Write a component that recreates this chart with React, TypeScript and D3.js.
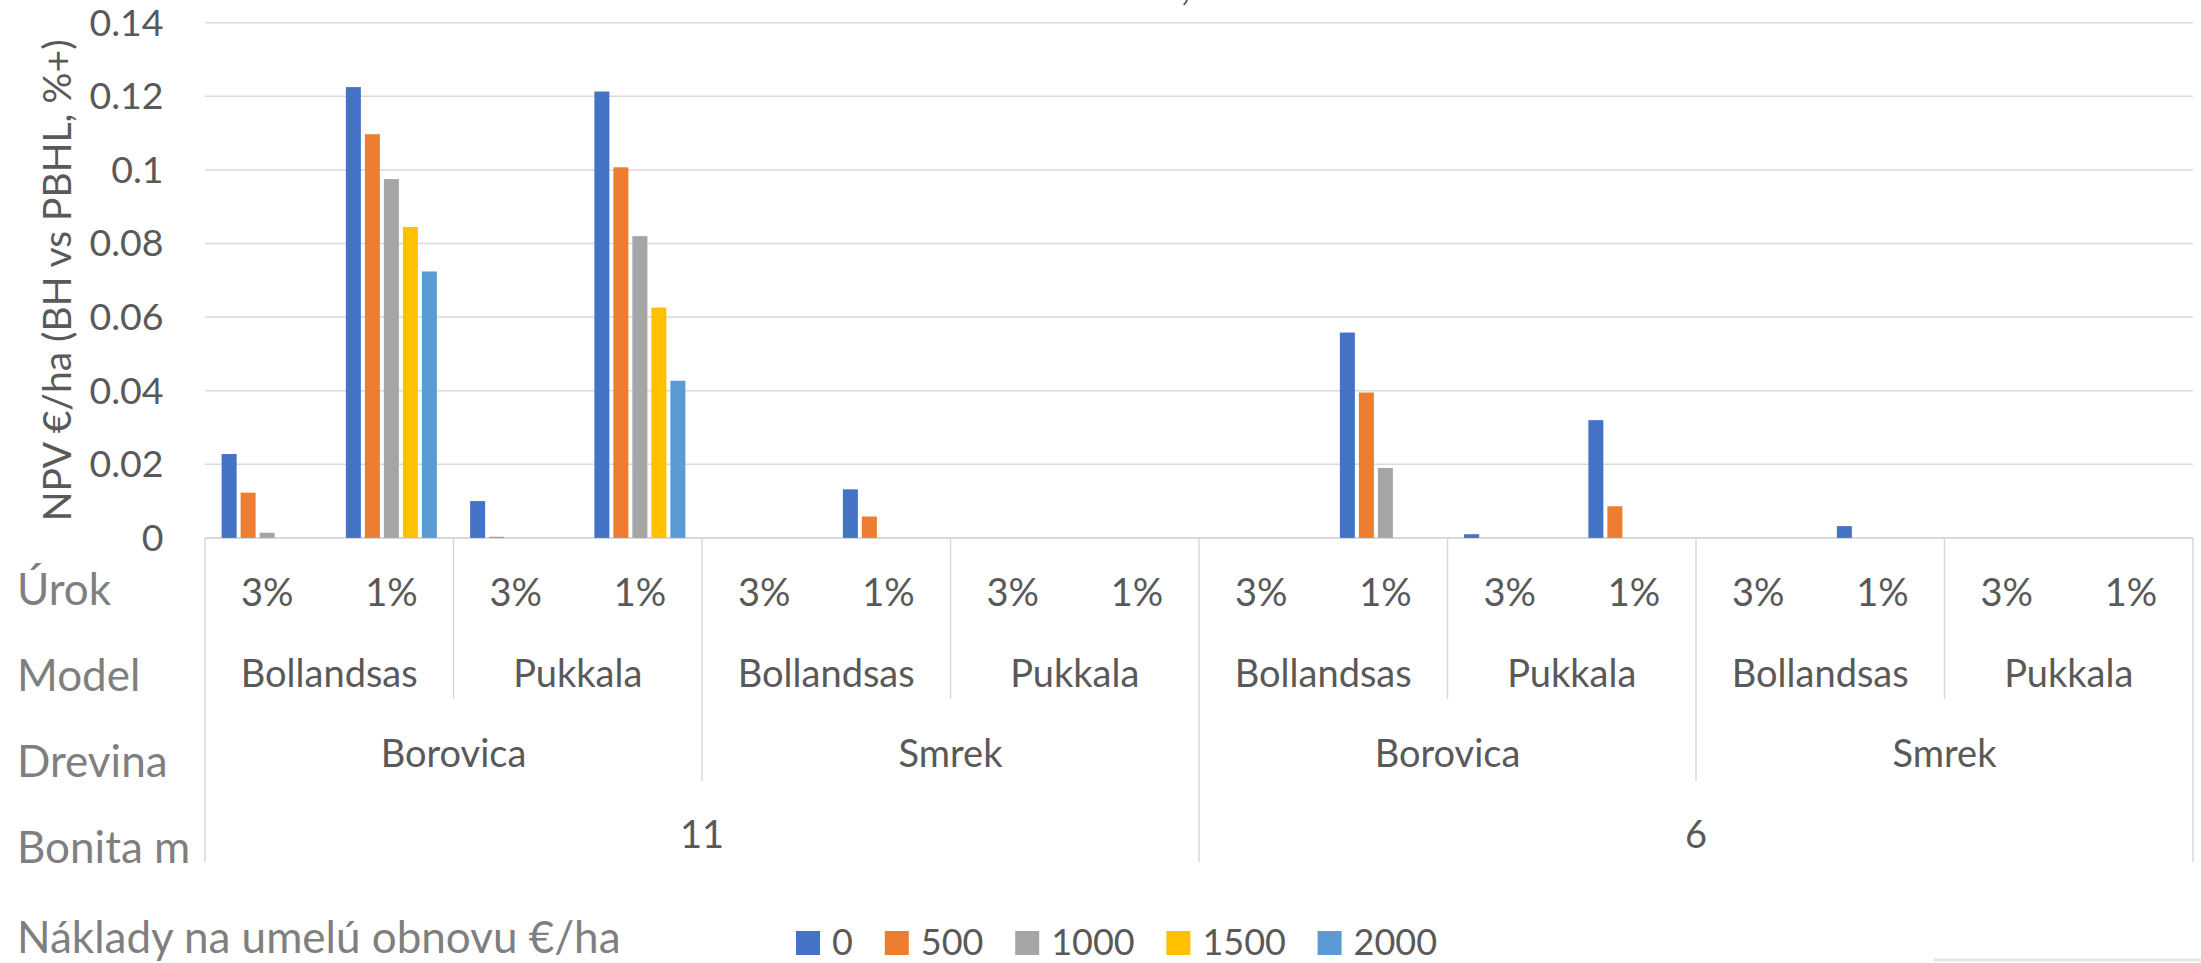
import React from "react";
import * as d3 from "d3";

const bonitaLevels = ["11", "6"];
const drevinaLevels = ["Borovica", "Smrek"];
const modelLevels = ["Bollandsas", "Pukkala"];
const urokLevels = ["3%", "1%"];
const seriesNames = ["0", "500", "1000", "1500", "2000"];
const seriesColors = ["#4472C4", "#ED7D31", "#A5A5A5", "#FFC000", "#5B9BD5"];

// 16 categories in order: bonita > drevina > model > urok
const values0 = [0.0228, 0.1225, 0.01, 0.1213, null, 0.0132, null, null, null, 0.0558, 0.001, 0.032, null, 0.0032, null, null];
const values500 = [0.0123, 0.1097, 0.0003, 0.1007, null, 0.0058, null, null, null, 0.0395, null, 0.0086, null, null, null, null];
const values1000 = [0.0014, 0.0975, null, 0.082, null, null, null, null, null, 0.019, null, null, null, null, null, null];
const values1500 = [null, 0.0845, null, 0.0626, null, null, null, null, null, null, null, null, null, null, null, null];
const values2000 = [null, 0.0724, null, 0.0427, null, null, null, null, null, null, null, null, null, null, null, null];
const seriesValues = [values0, values500, values1000, values1500, values2000];

const yTicks = [0, 0.02, 0.04, 0.06, 0.08, 0.1, 0.12, 0.14];
const rowLabels = ["Úrok", "Model", "Drevina", "Bonita m"];
const yTitle = "NPV €/ha (BH vs PBHL, %+)";
const legendTitle = "Náklady na umelú obnovu €/ha";

const W = 2201;
const H = 963;
const FONT = "Lato, 'Open Sans', sans-serif";
const TXT = "#595959";
const ROWTXT = "#7F7F7F";
const GRID = "#D9D9D9";

type Cat = { id: string; bonita: string; drevina: string; model: string; urok: string };
const cats: Cat[] = [];
bonitaLevels.forEach((b) =>
  drevinaLevels.forEach((d) =>
    modelLevels.forEach((m) =>
      urokLevels.forEach((u) => cats.push({ id: `${b}|${d}|${m}|${u}`, bonita: b, drevina: d, model: m, urok: u }))
    )
  )
);

export default function App() {
  const left = 205;
  const right = 2193;
  const top = 22.7;
  const bottom = 537.9;

  const x = d3.scaleBand<string>().domain(cats.map((c) => c.id)).range([left, right]).padding(0);
  const y = d3.scaleLinear().domain([0, 0.14]).range([bottom, top]);
  const groupW = 95;
  const inner = d3
    .scaleBand<string>()
    .domain(seriesNames)
    .range([0, groupW])
    .paddingInner(4 / 19)
    .paddingOuter(2 / 19);
  const bw = x.bandwidth();
  const catX = (i: number) => left + i * bw;

  const seps: { i: number; y2: number }[] = [];
  for (let i = 0; i <= 16; i++) {
    let y2 = 0;
    if (i % 8 === 0) y2 = 862;
    else if (i % 4 === 0) y2 = 781;
    else if (i % 2 === 0) y2 = 699;
    if (y2) seps.push({ i, y2 });
  }

  const fmt = (v: number) => String(+v.toFixed(2));

  const urokRow = cats.map((c, i) => ({ label: c.urok, cx: catX(i) + bw / 2 }));
  const modelRow: { label: string; cx: number }[] = [];
  for (let i = 0; i < 16; i += 2) modelRow.push({ label: cats[i].model, cx: catX(i) + bw });
  const drevRow: { label: string; cx: number }[] = [];
  for (let i = 0; i < 16; i += 4) drevRow.push({ label: cats[i].drevina, cx: catX(i) + 2 * bw });
  const bonRow: { label: string; cx: number }[] = [];
  for (let i = 0; i < 16; i += 8) bonRow.push({ label: cats[i].bonita, cx: catX(i) + 4 * bw });

  const legendX0 = 796;
  const digitW = 20.8;
  let lx = legendX0;
  const legendItems = seriesNames.map((s, k) => {
    const item = { name: s, color: seriesColors[k], x: lx };
    lx += 36 + s.length * digitW + 32;
    return item;
  });

  return (
    <svg
      width={W}
      height={H}
      viewBox={`0 0 ${W} ${H}`}
      style={{ position: "absolute", left: 0, top: 0, background: "#fff" }}
      fontFamily={FONT}
    >
      <rect x={0} y={0} width={W} height={H} fill="#fff" />
      {/* cut-off title remnant (as in the reference) */}
      <text x={1181} y={0} fontSize={40} fill={TXT}>,</text>

      {yTicks.map((t) => (
        <line key={t} x1={left} x2={right} y1={y(t)} y2={y(t)} stroke={GRID} strokeWidth={t === 0 ? 2 : 1.5} />
      ))}
      {yTicks.map((t) => (
        <text key={"l" + t} x={163.5} y={y(t) + 12.8} textAnchor="end" fontSize={37.5} fill={TXT}>
          {fmt(t)}
        </text>
      ))}
      <text transform={`translate(71, ${(top + bottom) / 2}) rotate(-90)`} textAnchor="middle" fontSize={39} fill={TXT}>
        {yTitle}
      </text>

      {seriesValues.map((vals, k) =>
        vals.map((v, i) =>
          v == null ? null : (
            <rect
              key={`b${k}-${i}`}
              x={(x(cats[i].id) as number) + (bw - groupW) / 2 + (inner(seriesNames[k]) as number)}
              y={y(v)}
              width={inner.bandwidth()}
              height={bottom - y(v)}
              fill={seriesColors[k]}
            />
          )
        )
      )}

      {seps.map((s) => (
        <line key={"s" + s.i} x1={catX(s.i)} x2={catX(s.i)} y1={bottom} y2={s.y2} stroke={GRID} strokeWidth={1.5} />
      ))}

      {urokRow.map((d, i) => (
        <text key={"u" + i} x={d.cx} y={606} textAnchor="middle" fontSize={38} fill={TXT}>{d.label}</text>
      ))}
      {modelRow.map((d, i) => (
        <text key={"m" + i} x={d.cx} y={686.7} textAnchor="middle" fontSize={38} fill={TXT}>{d.label}</text>
      ))}
      {drevRow.map((d, i) => (
        <text key={"d" + i} x={d.cx} y={766.7} textAnchor="middle" fontSize={38} fill={TXT}>{d.label}</text>
      ))}
      {bonRow.map((d, i) => (
        <text key={"bo" + i} x={d.cx} y={848.3} textAnchor="middle" fontSize={38} fill={TXT}>{d.label}</text>
      ))}

      {rowLabels.map((r, i) => (
        <text key={"r" + i} x={17} y={[605, 690.7, 776.7, 863.3][i]} fontSize={44} fill={ROWTXT}>{r}</text>
      ))}
      <text x={17} y={953.3} fontSize={44} fill={ROWTXT}>{legendTitle}</text>

      {legendItems.map((it) => (
        <g key={"lg" + it.name}>
          <rect x={it.x} y={931} width={24} height={24} fill={it.color} />
          <text x={it.x + 36} y={955} fontSize={36} fill={TXT}>{it.name}</text>
        </g>
      ))}

      <line x1={1933} x2={W} y1={960} y2={960} stroke="#E8E8E8" strokeWidth={3} />
    </svg>
  );
}
